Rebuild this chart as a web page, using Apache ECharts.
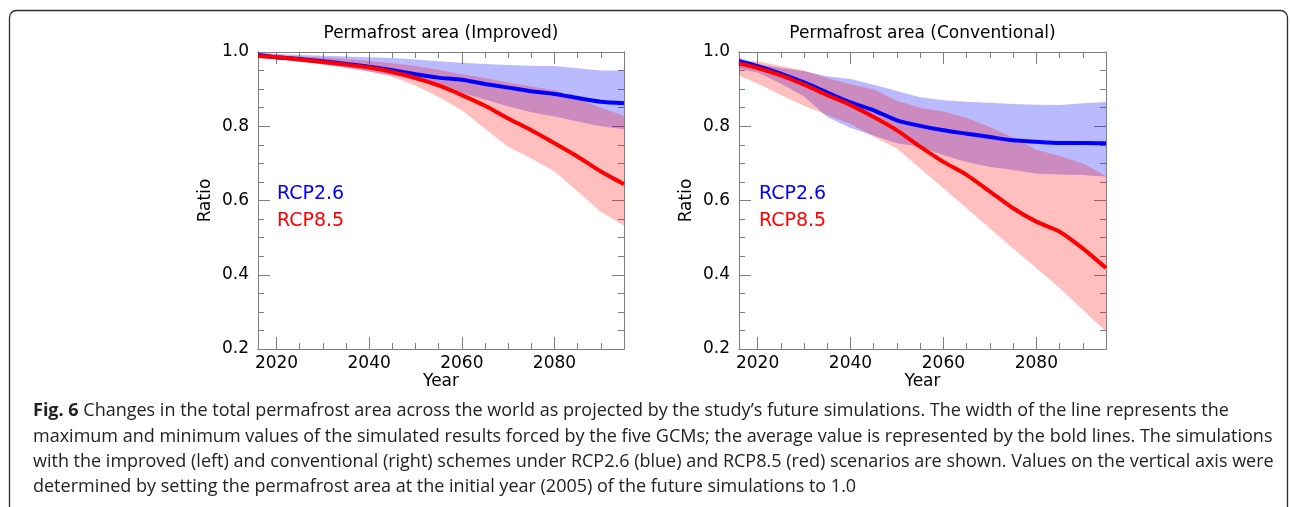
<!DOCTYPE html>
<html>
<head>
<meta charset="utf-8">
<script src="https://cdn.jsdelivr.net/npm/echarts@6/dist/echarts.min.js"></script>
<style>
html,body{margin:0;padding:0;background:#fff;}
#chart{width:1290px;height:507px;}
</style>
</head>
<body>
<div id="chart"></div>
<script>
// ---------------- data ----------------
const years = [2016,2020,2025,2030,2035,2040,2045,2050,2055,2060,2065,2070,2075,2080,2085,2090,2095];

// Improved scheme
const impBlueMean = [0.992,0.986,0.981,0.975,0.968,0.960,0.951,0.940,0.931,0.925,0.914,0.904,0.894,0.887,0.876,0.866,0.862];
const impBlueMax  = [0.998,0.995,0.992,0.990,0.988,0.986,0.984,0.980,0.975,0.971,0.968,0.965,0.963,0.962,0.956,0.950,0.950];
const impBlueMin  = [0.985,0.980,0.974,0.967,0.958,0.948,0.937,0.924,0.908,0.890,0.872,0.853,0.838,0.826,0.813,0.800,0.792];
const impRedMean  = [0.989,0.986,0.980,0.973,0.966,0.958,0.946,0.930,0.910,0.884,0.855,0.821,0.789,0.754,0.718,0.678,0.644];
const impRedMax   = [0.995,0.992,0.988,0.985,0.981,0.976,0.970,0.962,0.952,0.940,0.930,0.918,0.907,0.897,0.876,0.850,0.828];
const impRedMin   = [0.986,0.981,0.974,0.966,0.957,0.947,0.933,0.910,0.879,0.843,0.793,0.745,0.713,0.678,0.624,0.570,0.532];

// Conventional scheme
const conBlueMean = [0.975,0.962,0.942,0.918,0.891,0.864,0.843,0.816,0.801,0.789,0.780,0.771,0.762,0.758,0.755,0.755,0.754];
const conBlueMax  = [0.985,0.968,0.957,0.948,0.935,0.927,0.912,0.895,0.878,0.870,0.866,0.863,0.860,0.858,0.857,0.862,0.865];
const conBlueMin  = [0.955,0.945,0.915,0.880,0.825,0.795,0.775,0.754,0.745,0.722,0.704,0.690,0.682,0.673,0.670,0.669,0.664];
const conRedMean  = [0.969,0.957,0.937,0.912,0.884,0.857,0.825,0.789,0.745,0.704,0.669,0.624,0.579,0.543,0.516,0.471,0.418];
const conRedMax   = [0.975,0.975,0.962,0.950,0.930,0.913,0.900,0.869,0.850,0.840,0.822,0.798,0.770,0.737,0.720,0.700,0.666];
const conRedMin   = [0.937,0.915,0.884,0.855,0.830,0.806,0.772,0.740,0.686,0.633,0.579,0.525,0.471,0.418,0.364,0.306,0.247];

// axis ticks
const xMajorTicks = [2020,2040,2060,2080];
const xMinorTicks = [2020,2025,2030,2035,2040,2045,2050,2055,2060,2065,2070,2075,2080,2085,2090,2095];
const yMajorTicks = [0.2,0.4,0.6,0.8,1.0];
const yMinorTicks = [0.25,0.3,0.35,0.45,0.5,0.55,0.65,0.7,0.75,0.85,0.9,0.95];

const titles = ['Permafrost area (Improved)','Permafrost area (Conventional)'];
const scenarioNames = ['RCP2.6','RCP8.5'];
const captionLines = [
  '{b|Fig. 6} Changes in the total permafrost area across the world as projected by the study\u2019s future simulations. The width of the line represents the',
  'maximum and minimum values of the simulated results forced by the five GCMs; the average value is represented by the bold lines. The simulations',
  'with the improved (left) and conventional (right) schemes under RCP2.6 (blue) and RCP8.5 (red) scenarios are shown. Values on the vertical axis were',
  'determined by setting the permafrost area at the initial year (2005) of the future simulations to 1.0'
];

// ---------------- layout ----------------
const FONT = 'DejaVu Sans';
const grids = [
  {left: 258, top: 52, width: 366, height: 297},
  {left: 739, top: 52, width: 367, height: 297}
];
const frameColor = '#7f7f7f';

function xAxisDef(g, pos, major, labeled) {
  return {
    type: 'value', gridIndex: g, position: pos, min: 2016, max: 2095,
    name: labeled ? 'Year' : '', nameLocation: 'middle', nameGap: 24, nameMoveOverlap: false,
    nameTextStyle: {fontFamily: FONT, fontSize: 17, color: '#000'},
    splitLine: {show: false},
    axisLine: {show: true, onZero: false, lineStyle: {color: frameColor, width: 1}},
    axisTick: {show: true, inside: true, length: major ? 12 : 6,
               customValues: major ? xMajorTicks : xMinorTicks,
               lineStyle: {color: frameColor, width: 1}},
    axisLabel: {show: labeled, customValues: major ? xMajorTicks : xMinorTicks,
                fontFamily: FONT, fontSize: 17, color: '#000', margin: 6,
                formatter: v => String(Math.round(v))},
  };
}
function yAxisDef(g, pos, major, labeled) {
  return {
    type: 'value', gridIndex: g, position: pos, min: 0.2, max: 1.0,
    name: labeled ? 'Ratio' : '', nameLocation: 'middle', nameGap: 44, nameRotate: 90,
    nameTextStyle: {fontFamily: FONT, fontSize: 17, color: '#000'},
    splitLine: {show: false},
    axisLine: {show: true, onZero: false, lineStyle: {color: frameColor, width: 1}},
    axisTick: {show: true, inside: true, length: major ? 12 : 6,
               customValues: major ? yMajorTicks : yMinorTicks,
               lineStyle: {color: frameColor, width: 1}},
    axisLabel: {show: labeled, customValues: major ? yMajorTicks : yMinorTicks,
                fontFamily: FONT, fontSize: 17, color: '#000', margin: 9,
                formatter: v => v.toFixed(1)},
  };
}

const xAxes = [], yAxes = [];
for (let g = 0; g < 2; g++) {
  xAxes.push(xAxisDef(g, 'bottom', true, true));
  xAxes.push(xAxisDef(g, 'bottom', false, false));
  xAxes.push(xAxisDef(g, 'top', true, false));
  xAxes.push(xAxisDef(g, 'top', false, false));
  yAxes.push(yAxisDef(g, 'left', true, true));
  yAxes.push(yAxisDef(g, 'left', false, false));
  yAxes.push(yAxisDef(g, 'right', true, false));
  yAxes.push(yAxisDef(g, 'right', false, false));
}

const pairs = arr => arr.map((v, i) => [years[i], v]);
const SMOOTH = 0.2;

// min/max envelope drawn as a single polygon through the axis scales
function band(g, hi, lo, color, name) {
  return {
    type: 'custom', name: name, xAxisIndex: g * 4, yAxisIndex: g * 4, silent: true,
    data: years.map((y, i) => [y, lo[i], hi[i]]),
    encode: {x: 0, y: [1, 2]},
    renderItem: (params, api) => {
      if (params.dataIndex !== 0) return null;
      const pts = [];
      for (let i = 0; i < years.length; i++) pts.push(api.coord([years[i], hi[i]]));
      for (let i = years.length - 1; i >= 0; i--) pts.push(api.coord([years[i], lo[i]]));
      return {type: 'polygon', shape: {points: pts}, style: {fill: color}};
    }
  };
}
function meanLine(g, arr, color, name) {
  return {type: 'line', name: name, xAxisIndex: g * 4, yAxisIndex: g * 4, data: pairs(arr),
          symbol: 'none', smooth: SMOOTH, silent: true,
          lineStyle: {color: color, width: 4}};
}

const BLUE_BAND = 'rgba(0,0,255,0.27)';
const RED_BAND = 'rgba(255,0,0,0.25)';
const series = [
  band(0, impBlueMax, impBlueMin, BLUE_BAND, 'Improved RCP2.6 range'),
  meanLine(0, impBlueMean, '#0000ff', 'Improved ' + scenarioNames[0]),
  band(0, impRedMax, impRedMin, RED_BAND, 'Improved RCP8.5 range'),
  meanLine(0, impRedMean, '#ff0000', 'Improved ' + scenarioNames[1]),
  band(1, conBlueMax, conBlueMin, BLUE_BAND, 'Conventional RCP2.6 range'),
  meanLine(1, conBlueMean, '#0000ff', 'Conventional ' + scenarioNames[0]),
  band(1, conRedMax, conRedMin, RED_BAND, 'Conventional RCP8.5 range'),
  meanLine(1, conRedMean, '#ff0000', 'Conventional ' + scenarioNames[1]),
];

// caption font size fitted to the measured line width of the reference
const CAP_FONT = 'Open Sans';
const ctx = document.createElement('canvas').getContext('2d');
ctx.font = '100px "' + CAP_FONT + '"';
const capWidth100 = ctx.measureText(captionLines[1]).width;
const capSize = Math.round(1242 / capWidth100 * 1000) / 10;

const graphics = [
  {type: 'rect', shape: {x: 9.5, y: 10.5, width: 1278, height: 530, r: 7},
   style: {fill: 'none', stroke: '#2b2b2b', lineWidth: 1.3}, silent: true},
  {type: 'text', x: 441, y: 34, style: {text: titles[0], fontFamily: FONT, fontSize: 17,
    fill: '#000', align: 'center', verticalAlign: 'middle'}},
  {type: 'text', x: 922.5, y: 34, style: {text: titles[1], fontFamily: FONT, fontSize: 17,
    fill: '#000', align: 'center', verticalAlign: 'middle'}},
];
[277, 759].forEach(x => {
  graphics.push({type: 'text', x: x, y: 194, style: {text: scenarioNames[0], fontFamily: FONT,
    fontSize: 19, fill: '#0000ff', align: 'left', verticalAlign: 'middle'}});
  graphics.push({type: 'text', x: x, y: 221.5, style: {text: scenarioNames[1], fontFamily: FONT,
    fontSize: 19, fill: '#ff0000', align: 'left', verticalAlign: 'middle'}});
});
const capY = [411, 436.5, 461.5, 487];
captionLines.forEach((t, i) => {
  graphics.push({type: 'text', x: 33, y: capY[i], style: {
    text: t, fontFamily: CAP_FONT, fontSize: capSize, fill: '#222',
    align: 'left', verticalAlign: 'middle',
    rich: {b: {fontFamily: CAP_FONT, fontSize: capSize, fontWeight: 'bold', fill: '#222'}}
  }});
});

const chart = echarts.init(document.getElementById('chart'), null, {renderer: 'canvas'});
chart.setOption({
  backgroundColor: '#fff',
  animation: false,
  grid: grids,
  xAxis: xAxes,
  yAxis: yAxes,
  series: series,
  graphic: graphics
});
</script>
</body>
</html>
